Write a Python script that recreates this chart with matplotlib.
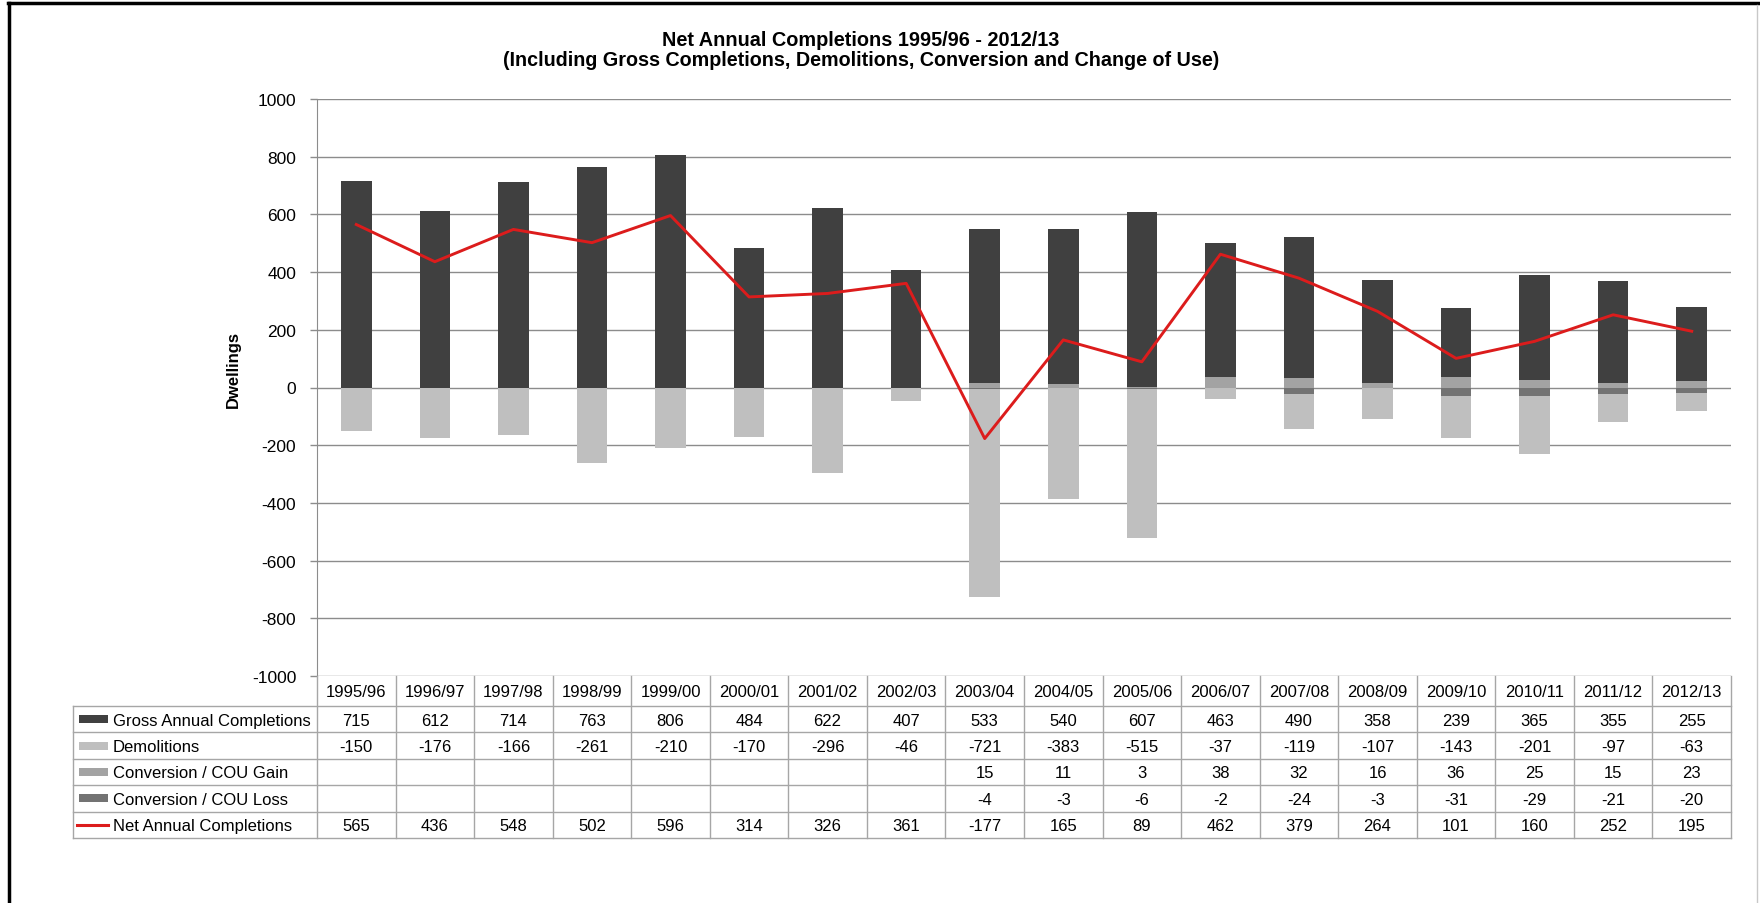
import matplotlib
matplotlib.use("Agg")
import matplotlib.pyplot as plt
from matplotlib.patches import Rectangle
from matplotlib.lines import Line2D
import numpy as np

plt.rcParams["font.family"] = ["Liberation Sans", "DejaVu Sans"]
plt.rcParams["axes.unicode_minus"] = False

# --- data -------------------------------------------------------------
years = ["1995/96", "1996/97", "1997/98", "1998/99", "1999/00", "2000/01",
         "2001/02", "2002/03", "2003/04", "2004/05", "2005/06", "2006/07",
         "2007/08", "2008/09", "2009/10", "2010/11", "2011/12", "2012/13"]
gross = [715, 612, 714, 763, 806, 484, 622, 407, 533, 540, 607, 463,
         490, 358, 239, 365, 355, 255]
demolitions = [-150, -176, -166, -261, -210, -170, -296, -46, -721, -383,
               -515, -37, -119, -107, -143, -201, -97, -63]
cou_gain = [None] * 8 + [15, 11, 3, 38, 32, 16, 36, 25, 15, 23]
cou_loss = [None] * 8 + [-4, -3, -6, -2, -24, -3, -31, -29, -21, -20]
net = [565, 436, 548, 502, 596, 314, 326, 361, -177, 165, 89, 462,
       379, 264, 101, 160, 252, 195]

series_names = ["Gross Annual Completions", "Demolitions",
                "Conversion / COU Gain", "Conversion / COU Loss",
                "Net Annual Completions"]

C_GROSS = "#404040"
C_DEMOL = "#bfbfbf"
C_GAIN = "#a3a3a3"
C_LOSS = "#737373"
C_NET = "#dc1c1c"
C_GRID = "#8c8c8c"
C_TABLE = "#a6a6a6"

W, H = 1760, 904
fig = plt.figure(figsize=(W / 100, H / 100), dpi=100)

# plot area in pixels (left, top, right, bottom)
PL, PT, PR, PB = 317, 100, 1731, 677
ax = fig.add_axes([PL / W, 1 - PB / H, (PR - PL) / W, (PB - PT) / H])

x = np.arange(len(years))
gain = np.array([v if v is not None else 0 for v in cou_gain], float)
loss = np.array([v if v is not None else 0 for v in cou_loss], float)
bw = 0.39

# positive stack: gain at the bottom, gross on top
ax.bar(x, gain, bw, color=C_GAIN, zorder=3)
ax.bar(x, gross, bw, bottom=gain, color=C_GROSS, zorder=3)
# negative stack: loss next to zero, demolitions below
ax.bar(x, loss, bw, color=C_LOSS, zorder=3)
ax.bar(x, demolitions, bw, bottom=loss, color=C_DEMOL, zorder=3)
ax.plot(x, net, color=C_NET, linewidth=2.1, zorder=4)

ax.set_xlim(-0.5, len(years) - 0.5)
ax.set_ylim(-1000, 1000)
ax.set_yticks(np.arange(-1000, 1001, 200))
ax.set_xticks([])
ax.yaxis.grid(True, color=C_GRID, linewidth=1.0)
ax.set_axisbelow(True)
for s in ["top", "right", "bottom"]:
    ax.spines[s].set_visible(False)
ax.spines["left"].set_color(C_GRID)
ax.tick_params(axis="y", length=5, width=1, color=C_GRID, pad=10, labelsize=12.5)

fig.text(233 / W, 1 - 370 / H, "Dwellings", rotation=90, ha="center",
         va="center", fontsize=12, fontweight="bold")

fig.text(861 / W, 1 - 41 / H, "Net Annual Completions 1995/96 - 2012/13",
         ha="center", va="center", fontsize=14.3, fontweight="bold")
fig.text(861 / W, 1 - 61 / H,
         "(Including Gross Completions, Demolitions, Conversion and Change of Use)",
         ha="center", va="center", fontsize=14.2, fontweight="bold")

# --- data table under the plot ---------------------------------------
tax = fig.add_axes([0, 0, 1, 1])
tax.set_xlim(0, W)
tax.set_ylim(H, 0)
tax.axis("off")
tax.patch.set_alpha(0)

TL = 73                      # left edge of label column
HDR_TOP, HDR_BOT = PB, 707   # header row
ROW_H = 26.4
n = len(years)
col_w = (PR - PL) / n
row_tops = [HDR_BOT + i * ROW_H for i in range(len(series_names))]
TB = row_tops[-1] + ROW_H

# horizontal lines
for yy in row_tops + [TB]:
    tax.plot([TL, PR], [yy, yy], color=C_TABLE, lw=1)
# vertical lines
tax.plot([TL, TL], [HDR_BOT, TB], color=C_TABLE, lw=1)
for i in range(n + 1):
    xx = PL + i * col_w
    tax.plot([xx, xx], [HDR_TOP, TB], color=C_TABLE, lw=1)

for i, yr in enumerate(years):
    tax.text(PL + (i + 0.5) * col_w, (HDR_TOP + HDR_BOT) / 2 + 1, yr,
             ha="center", va="center", fontsize=12)

rows = [gross, demolitions, cou_gain, cou_loss, net]
colors = [C_GROSS, C_DEMOL, C_GAIN, C_LOSS, C_NET]
for r, (name, vals, col) in enumerate(zip(series_names, rows, colors)):
    cy = row_tops[r] + ROW_H / 2
    if r == len(rows) - 1:
        tax.add_line(Line2D([77, 108], [cy, cy], color=col, lw=2.2))
    else:
        tax.add_patch(Rectangle((79, cy - 4), 29, 8, color=col, lw=0))
    tax.text(113, cy + 1, name, ha="left", va="center", fontsize=12)
    for i, v in enumerate(vals):
        if v is None:
            continue
        tax.text(PL + (i + 0.5) * col_w, cy + 1, str(v),
                 ha="center", va="center", fontsize=12)

# chart frame
tax.plot([8, W], [4, 4], color="black", lw=2.5)
tax.plot([8.5, 8.5], [4, H], color="black", lw=2.5)
tax.plot([1757, 1757], [6, H], color="#c8c8c8", lw=1)

fig.savefig("out.png", dpi=100)
